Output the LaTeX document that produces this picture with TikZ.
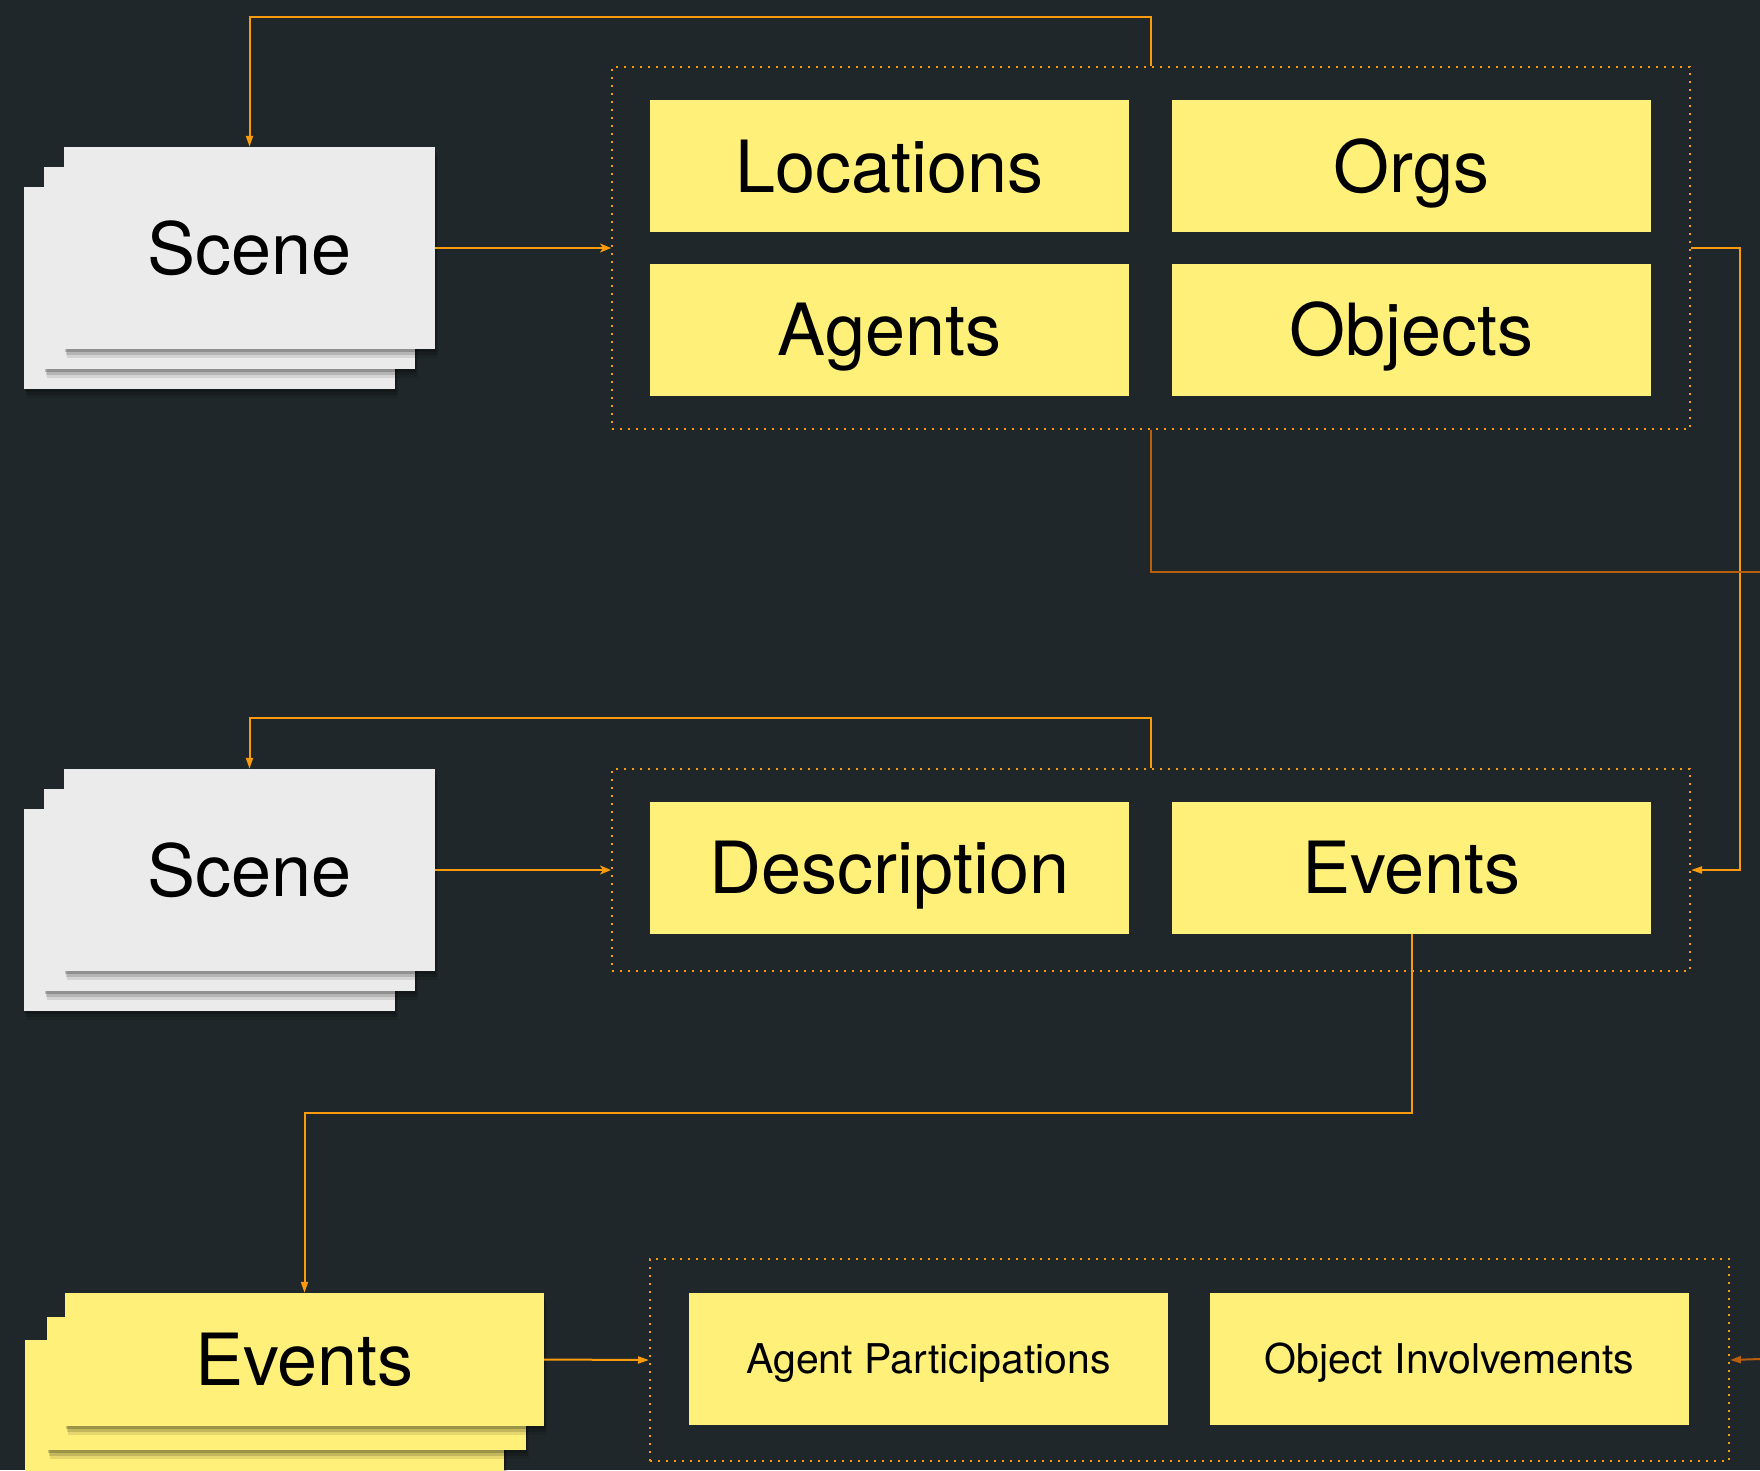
\documentclass[tikz,border=0pt]{standalone}
\usepackage{fontspec}
\setmainfont{TeX Gyre Heros}
\usetikzlibrary{arrows.meta,shadows}
\definecolor{bg}{HTML}{20272A}
\definecolor{ylw}{HTML}{FFF07A}
\definecolor{lgray}{HTML}{EBEBEB}
\definecolor{org}{HTML}{F99B0C}
\definecolor{dorg}{HTML}{B85E0C}
\begin{document}
\begin{tikzpicture}[x=1pt,y=-1pt,
  bigtxt/.style={font=\fontsize{72}{80}\selectfont, text height=52pt, text depth=0pt},
  smalltxt/.style={font=\fontsize{41}{48}\selectfont, text height=29.5pt, text depth=0pt},
  card/.style={draw=none, inner sep=0pt, minimum width=479pt, minimum height=132pt, fill=ylw, text=black},
  softshadow/.style={
    general shadow={fill=black, opacity=0.10, shadow xshift=3pt, shadow yshift=-9pt},
    general shadow={fill=black, opacity=0.14, shadow xshift=2pt, shadow yshift=-6pt},
    general shadow={fill=black, opacity=0.20, shadow xshift=1pt, shadow yshift=-3pt}},
  sheet/.style={draw=none, inner sep=0pt, minimum width=371pt, minimum height=202pt, fill=lgray, text=black, softshadow},
  evsheet/.style={draw=none, inner sep=0pt, minimum width=479pt, minimum height=133pt, fill=ylw, text=black, softshadow},
  group/.style={draw=org, line width=2pt, dash pattern=on 2pt off 6pt, inner sep=0pt, fill=none},
  conn/.style={draw=org, line width=2pt, -{Triangle[length=11pt,width=7pt]}},
  connin/.style={draw=org, line width=2pt, -{Stealth[length=11pt,width=9pt,inset=3pt]}},
  dconn/.style={draw=dorg, line width=2pt},
]
\fill[bg] (0,0) rectangle (1760,1470);
\useasboundingbox (0,0) rectangle (1760,1470);

% ---------- top section ----------
\node[sheet] (s1c) at (209.5,288) {};
\node[sheet] (s1b) at (229.5,268) {};
\node[sheet, bigtxt] (scene1) at (249.5,248) {Scene};

\node[group, minimum width=1078pt, minimum height=362pt] (box1) at (1151,248) {};
\node[card, bigtxt] (loc) at (889.5,166) {Locations};
\node[card, bigtxt] (orgs) at (1411.5,166) {Orgs};
\node[card, bigtxt] (agents) at (889.5,329.5) {Agents};
\node[card, bigtxt] (objects) at (1411.5,329.5) {Objects};

% ---------- middle section ----------
\node[sheet] (s2c) at (209.5,910) {};
\node[sheet] (s2b) at (229.5,890) {};
\node[sheet, bigtxt] (scene2) at (249.5,870) {Scene};

\node[group, minimum width=1078pt, minimum height=202pt] (box2) at (1151,870) {};
\node[card, bigtxt] (desc) at (889.5,867.5) {Description};
\node[card, bigtxt] (events) at (1411.5,867.5) {Events};

% ---------- bottom section ----------
\node[evsheet] (e3c) at (264,1406.5) {};
\node[evsheet] (e3b) at (286,1383) {};
\node[evsheet, bigtxt] (evstack) at (304.5,1359.5) {Events};

\node[group, minimum width=1079pt, minimum height=202pt] (box3) at (1189.5,1360) {};
\node[card, smalltxt] (agp) at (928.5,1359) {Agent Participations};
\node[card, smalltxt] (obi) at (1449.5,1359) {Object Involvements};

% free ends at the right edge
\coordinate (exitA) at (1760,572);
\coordinate (exitB) at (1760,1359);

% ---------- connectors ----------
\draw[conn] (box1.north) -- (1151,17) -| (scene1.north);
\draw[connin] (scene1.east) -- (box1.west);
\draw[conn] (box1.east) -- (1740,248) |- (box2.east);
\draw[dconn] (box1.south) |- (exitA);
\draw[dconn, -{Triangle[length=11pt,width=7pt]}] (exitB) -- (box3.east);

\draw[conn] (box2.north) -- (1151,718) -| (scene2.north);
\draw[connin] (scene2.east) -- (box2.west);
\draw[conn] (events.south) -- (1411.5,1113) -| (evstack.north);
\draw[conn] (evstack.east) -- (box3.west);
\end{tikzpicture}
\end{document}
